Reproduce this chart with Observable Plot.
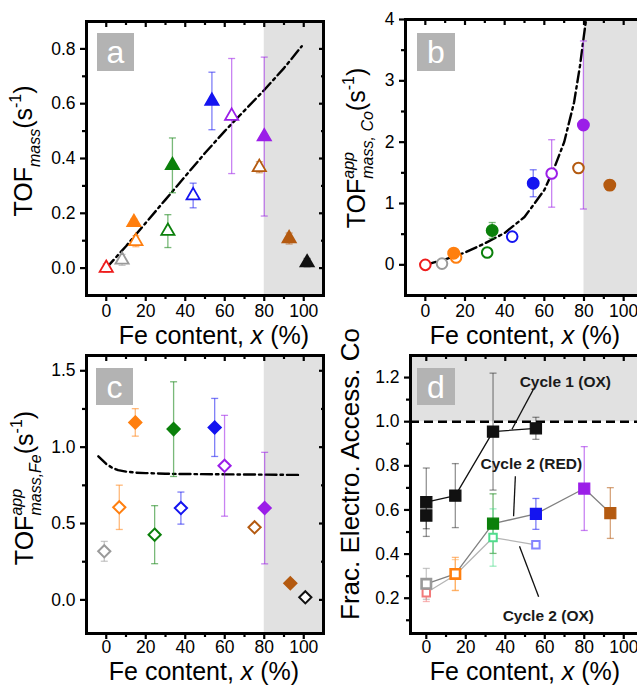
<!DOCTYPE html>
<html><head><meta charset="utf-8">
<script src="https://cdn.jsdelivr.net/npm/d3@7"></script>
<script src="https://cdn.jsdelivr.net/npm/@observablehq/plot@0.6"></script>
<style>
body{margin:0;background:#fff}
#fig{position:relative;width:637px;height:685px;overflow:hidden;background:#fff;font-family:"Liberation Sans",Arial,sans-serif}
.panel{position:absolute}
</style></head><body><div id="fig"></div>
<script>
// ---------- shared ticks ----------
const xTicks = [0, 20, 40, 60, 80, 100];
const xMinor = [10, 30, 50, 70, 90];
const shadeFrom = 80;

// ---------- panel a : TOF_mass (triangles) ----------
const a_color = ["red","gray","orange","orange","green","green","blue","blue","violet","violet","brown","brown","black"];
const a_open  = [1,1,0,1,0,1,1,0,1,0,1,0,0];
const a_x     = [0, 8, 14, 15, 33.5, 31.2, 44, 53.5, 63.5, 80, 77.5, 92.6, 101.7];
const a_y     = [0.0, 0.03, 0.167, 0.098, 0.375, 0.135, 0.265, 0.61, 0.555, 0.48, 0.368, 0.108, 0.02];
const a_err   = [0.015, 0.02, 0.012, 0.02, 0.1, 0.06, 0.045, 0.105, 0.21, 0.29, 0.02, 0.02, 0.015];
const a_fitX  = [0, 10, 20, 30, 40, 50, 60, 70, 80, 90, 99];
const a_fitY  = [0, 0.08, 0.165, 0.25, 0.335, 0.42, 0.5, 0.575, 0.65, 0.73, 0.81];
const a_yTicks = [0, 0.2, 0.4, 0.6, 0.8];
const a_yMinor = [0.1, 0.3, 0.5, 0.7];

// ---------- panel b : TOF app mass,Co (circles) ----------
const b_color = ["red","gray","orange","orange","green","green","blue","blue","violet","violet","brown","brown"];
const b_open  = [1,1,0,1,0,1,1,0,1,0,1,0];
const b_x     = [0, 8.4, 14.3, 15.5, 33.7, 31.2, 43.8, 54.4, 63.7, 79.7, 77.2, 93];
const b_y     = [0, 0.02, 0.19, 0.12, 0.56, 0.2, 0.46, 1.33, 1.49, 2.28, 1.58, 1.30];
const b_err   = [0.02, 0.03, 0.03, 0.04, 0.13, 0.03, 0.03, 0.22, 0.55, 1.37, 0.05, 0.08];
const b_fitX  = [0, 10, 20, 30, 40, 50, 60, 65, 70, 75, 78, 80, 81.5];
const b_fitY  = [0, 0.09, 0.2, 0.35, 0.52, 0.78, 1.22, 1.58, 2.0, 2.65, 3.25, 3.75, 4.1];
const b_yTicks = [0, 1, 2, 3, 4];
const b_yMinor = [0.5, 1.5, 2.5, 3.5];

// ---------- panel c : TOF app mass,Fe (diamonds) ----------
const c_color = ["gray","orange","orange","green","green","blue","blue","violet","violet","brown","brown","black"];
const c_open  = [1,1,0,1,0,1,0,1,0,1,0,1];
const c_x     = [-1, 6.6, 14.7, 24.5, 34.1, 37.8, 54.9, 59.9, 80.2, 75.1, 93.2, 100.8];
const c_y     = [0.318, 0.606, 1.162, 0.427, 1.118, 0.601, 1.129, 0.878, 0.601, 0.475, 0.109, 0.017];
const c_err   = [0.065, 0.145, 0.09, 0.19, 0.31, 0.105, 0.19, 0.33, 0.365, 0.02, 0.02, 0.01];
const c_fitX  = [-4, -2, 0, 3, 6, 10, 15, 20, 30, 40, 60, 80, 99];
const c_fitY  = [0.94, 0.915, 0.89, 0.865, 0.85, 0.84, 0.833, 0.83, 0.826, 0.824, 0.822, 0.82, 0.818];
const c_yTicks = [0, 0.5, 1.0, 1.5];
const c_yMinor = [0.25, 0.75, 1.25];

// ---------- panel d : fraction electro-accessible Co (squares) ----------
const d1_x   = [0, 0, 14.7, 33.8, 55.5];           // Cycle 1 (OX)
const d1_y   = [0.575, 0.635, 0.665, 0.955, 0.97];
const d1_err = [0.06, 0.155, 0.145, 0.265, 0.05];
const d1_color = ["black","black","black","black","black"];
const d2r_x   = [0, 14.7, 33.8, 55.5, 80, 93.2];   // Cycle 2 (RED)
const d2r_y   = [0.265, 0.31, 0.538, 0.582, 0.697, 0.586];
const d2r_err = [0.07, 0.075, 0.135, 0.07, 0.19, 0.115];
const d2r_color = ["gray","orange","green","blue","violet","brown"];
const d2r_open  = [1,1,0,0,0,0];
const d2o_x   = [0, 14.7, 33.8, 55.5];             // Cycle 2 (OX)
const d2o_y   = [0.225, 0.305, 0.475, 0.442];
const d2o_err = [0.04, 0.07, 0.13, 0.012];
const d2o_color = ["pink","lorange","lgreen","lblue"];
const d_yTicks = [0.2, 0.4, 0.6, 0.8, 1.0, 1.2];
const d_yMinor = [0.1, 0.3, 0.5, 0.7, 0.9, 1.1];
const d_limit = 1.0;
const d_noteText = ["Cycle 1 (OX)", "Cycle 2 (RED)", "Cycle 2 (OX)"];
const d_noteX = [70.4, 53.2, 61.8];
const d_noteY = [1.179, 0.81, 0.12];
const d_leadX1 = [54.3, 45.1, 47.2], d_leadY1 = [1.1475, 0.753, 0.435];
const d_leadX2 = [43.4, 44.2, 56.9], d_leadY2 = [0.966, 0.571, 0.207];

// ---------- styling ----------
const FONT = '"Liberation Sans", Arial, Helvetica, sans-serif';
const pal = {red:"#ee1c1c", gray:"#9a9a9a", orange:"#ff7f0f", green:"#0b800b", blue:"#1414f0",
  violet:"#9b1ee8", brown:"#b45a10", black:"#111111", pink:"#f27a7a", lorange:"#ffab55",
  lgreen:"#4fdc8c", lblue:"#8585ff"};

const rows = (xs, ys, es, cs, os) => xs.map((x, i) => ({x, y: ys[i], e: es[i], c: cs[i], open: os ? !!os[i] : false}));
const line = (xs, ys) => xs.map((x, i) => ({x, y: ys[i]}));
const capSym = {draw(ctx) { ctx.moveTo(-3.5, 0); ctx.lineTo(3.5, 0); }};

function errMarks(data, op = 0.55) {
  const o = {stroke: d => pal[d.c], strokeOpacity: op, strokeWidth: 1.3};
  return [
    Plot.link(data, {x1: "x", x2: "x", y1: d => d.y - d.e, y2: d => d.y + d.e, ...o}),
    Plot.dot(data, {x: "x", y: d => d.y + d.e, symbol: capSym, r: 3, ...o}),
    Plot.dot(data, {x: "x", y: d => d.y - d.e, symbol: capSym, r: 3, ...o})
  ];
}
function markers(data, symbol, r, sw = 1.8) {
  return Plot.dot(data, {x: "x", y: "y", symbol, r, stroke: d => pal[d.c],
    fill: d => d.open ? "#ffffff" : pal[d.c], strokeWidth: sw});
}
function axes(yTicks, yMinor, yFmt, xPad) {
  const k = {stroke: "#000", strokeWidth: 2.2, label: null};
  return [
    Plot.axisX(xTicks, {...k, anchor: "bottom", tickSize: 6, tickPadding: xPad, tickFormat: d => String(d)}),
    Plot.axisX(xMinor, {...k, anchor: "bottom", tickSize: 4, fill: "none"}),
    Plot.axisX(xTicks, {...k, anchor: "top", tickSize: 5, insetTop: 5, fill: "none"}),
    Plot.axisX(xMinor, {...k, anchor: "top", tickSize: 3, insetTop: 3, fill: "none"}),
    Plot.axisY(yTicks, {...k, anchor: "left", tickSize: 6, tickPadding: 5, tickFormat: yFmt}),
    Plot.axisY(yMinor, {...k, anchor: "left", tickSize: 4, fill: "none"}),
    Plot.axisY(yTicks, {...k, anchor: "right", tickSize: 5, insetRight: 5, fill: "none"}),
    Plot.axisY(yMinor, {...k, anchor: "right", tickSize: 3, insetRight: 3, fill: "none"})
  ];
}
const dashDot = {stroke: "#000", strokeWidth: 2.4, strokeDasharray: "11,4,2.5,4"};
const shade = "#e1e1e1";

function place(plot, left, top, w, h) {
  const div = document.createElement("div");
  div.className = "panel";
  div.style.left = left + "px"; div.style.top = top + "px";
  div.style.width = w + "px"; div.style.height = h + "px";
  div.appendChild(plot);
  document.getElementById("fig").appendChild(div);
}
function base(w, h, m, xd, yd) {
  return {width: w, height: h, marginTop: m[0], marginRight: m[1], marginBottom: m[2], marginLeft: m[3],
    x: {domain: xd}, y: {domain: yd}, color: {type: "identity"},
    style: {background: "transparent", overflow: "visible", maxWidth: "none", fontFamily: FONT, fontSize: "17.5px", color: "#000"}};
}
const f1 = d3.format(".1f");

// panel a
const aData = rows(a_x, a_y, a_err, a_color, a_open);
place(Plot.plot({...base(330, 345, [21, 7, 50, 86], [-10, 110], [-0.1, 0.9]),
  marks: [
    Plot.rect([{x1: shadeFrom, x2: 110}], {x1: "x1", x2: "x2", fill: shade}),
    Plot.line(line(a_fitX, a_fitY), {x: "x", y: "y", ...dashDot}),
    ...errMarks(aData),
    markers(aData, "triangle", 4.9),
    Plot.frame({stroke: "#000", strokeWidth: 3}),
    ...axes(a_yTicks, a_yMinor, f1, 3)
  ]}), 0, 0, 330, 345);

// panel b
const bData = rows(b_x, b_y, b_err, b_color, b_open);
place(Plot.plot({...base(330, 345, [19, 7, 50, 85], [-10, 110], [-0.5, 4]),
  marks: [
    Plot.rect([{x1: shadeFrom, x2: 110}], {x1: "x1", x2: "x2", fill: shade}),
    Plot.line(line(b_fitX, b_fitY), {x: "x", y: "y", clip: true, ...dashDot}),
    ...errMarks(bData),
    markers(bData.filter(d => d.open), "circle", 5.3, 2),
    markers(bData.filter(d => !d.open), "circle", 5.7, 1.5),
    Plot.frame({stroke: "#000", strokeWidth: 3}),
    ...axes(b_yTicks, b_yMinor, d => String(d), 3)
  ]}), 320, 0, 330, 345);

// panel c
const cData = rows(c_x, c_y, c_err, c_color, c_open);
place(Plot.plot({...base(330, 355, [25, 7, 52, 86], [-10, 110], [-0.22, 1.6]),
  marks: [
    Plot.rect([{x1: shadeFrom, x2: 110}], {x1: "x1", x2: "x2", fill: shade}),
    Plot.line(line(c_fitX, c_fitY), {x: "x", y: "y", ...dashDot}),
    ...errMarks(cData),
    markers(cData, "diamond2", 5.5, 2),
    Plot.frame({stroke: "#000", strokeWidth: 3}),
    ...axes(c_yTicks, c_yMinor, f1, 1)
  ]}), 0, 330, 330, 355);

// panel d
const d1 = rows(d1_x, d1_y, d1_err, d1_color);
const d2r = rows(d2r_x, d2r_y, d2r_err, d2r_color, d2r_open);
const d2o = rows(d2o_x, d2o_y, d2o_err, d2o_color, [1,1,1,1]);
const notes = d_noteText.map((t, i) => ({t, x: d_noteX[i], y: d_noteY[i]}));
const leads = d_leadX1.map((x, i) => ({x1: x, y1: d_leadY1[i], x2: d_leadX2[i], y2: d_leadY2[i]}));
place(Plot.plot({...base(330, 355, [25, 7, 52, 90], [-8, 110], [0.04, 1.3]),
  marks: [
    Plot.rect([{y1: d_limit, y2: 1.3}], {y1: "y1", y2: "y2", fill: shade}),
    Plot.ruleY([d_limit], {stroke: "#000", strokeWidth: 2.5, strokeDasharray: "9,5"}),
    Plot.line(d1.slice(1), {x: "x", y: "y", stroke: "#111", strokeWidth: 1.3}),
    Plot.line(d2o, {x: "x", y: "y", stroke: "#b5b5b5", strokeWidth: 1.3}),
    Plot.line(d2r, {x: "x", y: "y", stroke: "#808080", strokeWidth: 1.3}),
    ...errMarks(d1, 0.45), ...errMarks(d2r), ...errMarks(d2o),
    markers(d2o, "square", 4.2, 2),
    markers(d2r.filter(d => d.open), "square", 5.3, 2.6),
    markers(d2r.filter(d => !d.open), "square", 6.2, 1.2),
    markers(d1, "square", 6.3, 1.2),
    Plot.link(leads, {x1: "x1", y1: "y1", x2: "x2", y2: "y2", stroke: "#111", strokeWidth: 1.3}),
    Plot.text(notes, {x: "x", y: "y", text: "t", fontWeight: "bold", fontSize: 15.5, fill: "#1a1a1a"}),
    Plot.frame({stroke: "#000", strokeWidth: 3}),
    ...axes(d_yTicks, d_yMinor, f1, 1)
  ]}), 320, 330, 330, 355);

// ---------- overlay: panel tags and axis titles ----------
const ov = d3.select("#fig").append("svg").attr("width", 637).attr("height", 685)
  .style("position", "absolute").style("left", 0).style("top", 0).style("pointer-events", "none")
  .style("font-family", FONT);

const tags = [["a", 97, 33, 37, 38], ["b", 417, 33, 38, 38], ["c", 96, 368, 37, 37], ["d", 417, 368, 38, 37]];
for (const [t, x, y, w, h] of tags) {
  ov.append("rect").attr("x", x).attr("y", y).attr("width", w).attr("height", h).attr("fill", "#b3b3b3");
  ov.append("text").attr("x", x + w / 2).attr("y", y + 30).attr("text-anchor", "middle")
    .attr("font-size", 32).attr("fill", "#fff").text(t);
}

function xlabel(cx, baseline) {
  const t = ov.append("text").attr("x", cx).attr("y", baseline).attr("text-anchor", "middle").attr("font-size", 25);
  t.append("tspan").text("Fe content, ");
  t.append("tspan").attr("font-style", "italic").text("x");
  t.append("tspan").text(" (%)");
}
xlabel(214, 344); xlabel(525, 344); xlabel(204, 680); xlabel(525, 680);

function vlabel(cx, cy, parts, size) {
  const g = ov.append("g").attr("transform", `translate(${cx},${cy}) rotate(-90)`);
  let cursor = 0, lastStart = 0; const els = [];
  for (const p of parts) {
    const t = g.append("text").attr("font-size", p.small ? size * 0.64 : size)
      .attr("font-style", p.italic ? "italic" : null).text(p.t);
    const w = t.node().getComputedTextLength();
    const start = p.stack ? lastStart : cursor;
    const dy = p.sup ? -0.45 * size : p.sub ? 0.3 * size : 0;
    t.attr("x", start).attr("y", dy);
    cursor = p.stack ? Math.max(cursor, start + w) : start + w;
    lastStart = start;
    els.push(t);
  }
  els.forEach(t => t.attr("x", +t.attr("x") - cursor / 2));
}
vlabel(32, 151, [{t: "TOF"}, {t: "mass", sub: true, small: true, italic: true}, {t: "  (s"},
  {t: "-1", sup: true, small: true}, {t: ")"}], 25);
vlabel(365, 148, [{t: "TOF"}, {t: "app", sup: true, small: true, italic: true},
  {t: "mass, Co", sub: true, small: true, italic: true, stack: true}, {t: "(s"},
  {t: "-1", sup: true, small: true}, {t: ")"}], 25);
vlabel(33, 488, [{t: "TOF"}, {t: "app", sup: true, small: true, italic: true},
  {t: "mass,Fe", sub: true, small: true, italic: true, stack: true}, {t: "(s"},
  {t: "-1", sup: true, small: true}, {t: ")"}], 25);
vlabel(359, 474, [{t: "Frac. Electro. Access. Co"}], 26);
</script></body></html>
